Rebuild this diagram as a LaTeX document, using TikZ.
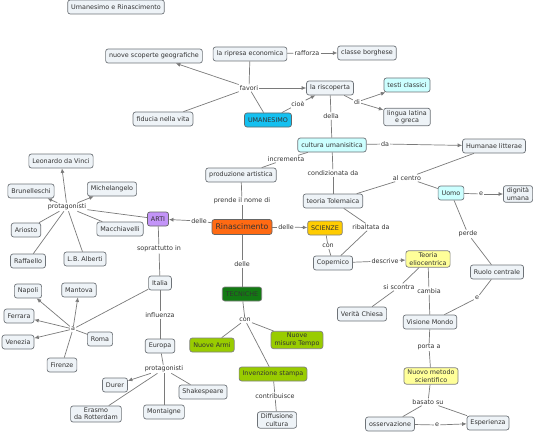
\documentclass[tikz,border=0pt]{standalone}
\usepackage{fontspec}
\setmainfont{DejaVu Sans}
\usetikzlibrary{positioning,shapes,arrows,arrows.meta}
\definecolor{cborder}{HTML}{6E7378}
\definecolor{cfill}{HTML}{EEF3F7}
\definecolor{lgray}{HTML}{7A7A7A}
\definecolor{tgray}{HTML}{333333}
\definecolor{cyanlight}{HTML}{CCFFFF}
\definecolor{cyandark}{HTML}{14C0F0}
\definecolor{orangec}{HTML}{FF6A13}
\definecolor{goldc}{HTML}{FFCC00}
\definecolor{greendark}{HTML}{137A13}
\definecolor{greenlight}{HTML}{99CC00}
\definecolor{purplec}{HTML}{C394F8}
\definecolor{yellowlight}{HTML}{FFFF99}
\begin{document}
\begin{tikzpicture}[
  x=1pt,y=-1pt,
  concept/.style={draw=cborder,fill=cfill,rounded corners=2.5pt,line width=0.7pt,
    inner xsep=3.5pt,inner ysep=2pt,minimum height=14pt,align=center,
    text=tgray,font=\fontsize{6.4}{7.4}\selectfont},
  linkword/.style={inner sep=1pt,text=tgray,font=\fontsize{6.4}{7.4}\selectfont},
  link/.style={draw=lgray,line width=0.7pt},
  arr/.style={link,-{Latex[length=4.5pt,width=4pt]}}
]
\useasboundingbox (0,0) rectangle (540,433);
% titolo
\node[concept] (title) at (116,7) {Umanesimo e Rinascimento};
% umanesimo
\node[concept] (scoperte) at (154,56) {nuove scoperte geografiche};
\node[concept] (fiducia) at (163,119) {fiducia nella vita};
\node[concept] (ripresa) at (250,54) {la ripresa economica};
\node[concept] (borghese) at (367,53) {classe borghese};
\node[concept,fill=cyandark,draw=black!60] (umanesimo) at (268,120) {UMANESIMO};
\node[concept] (riscoperta) at (330,88) {la riscoperta};
\node[concept,fill=cyanlight] (testi) at (407,85) {testi classici};
\node[concept] (lingua) at (407,117) {lingua latina\\e greca};
\node[concept,fill=cyanlight] (cultura) at (332,145) {cultura umanisitica};
\node[concept] (humanae) at (494,146) {Humanae litterae};
\node[concept] (produzione) at (241,175) {produzione artistica};
\node[concept] (tolemaica) at (333,201) {teoria Tolemaica};
\node[concept,fill=cyanlight] (uomo) at (451,193) {Uomo};
\node[concept] (dignita) at (518,194) {dignità\\umana};
\node[concept] (ruolo) at (497,272) {Ruolo centrale};
% rinascimento
\node[concept,fill=orangec,draw=black!60,font=\fontsize{7.8}{9}\selectfont,minimum height=15pt] (rinascimento) at (242,227) {Rinascimento};
\node[concept,fill=goldc,draw=black!50] (scienze) at (325,228) {SCIENZE};
\node[concept] (copernico) at (333,263) {Copernico};
\node[concept,fill=yellowlight,draw=black!50] (elio) at (428,259) {Teoria\\eliocentrica};
\node[concept] (chiesa) at (362,314) {Verità Chiesa};
\node[concept] (visione) at (430,322) {Visione Mondo};
\node[concept,fill=yellowlight,draw=black!50] (metodo) at (431,376) {Nuovo metodo\\scientifico};
\node[concept] (osserv) at (390,424) {osservazione};
\node[concept] (esperienza) at (488,423) {Esperienza};
\node[concept,fill=greendark,draw=black!50] (tecniche) at (242,294) {TECNICHE};
\node[concept,fill=greenlight,draw=black!50] (armi) at (212,345) {Nuove Armi};
\node[concept,fill=greenlight,draw=black!50] (tempo) at (297,340) {Nuove\\misure Tempo};
\node[concept,fill=greenlight,draw=black!50] (stampa) at (273,374) {Invenzione stampa};
\node[concept] (diffusione) at (277,420) {Diffusione\\cultura};
% arti
\node[concept,fill=purplec,draw=black!60] (arti) at (158,219) {ARTI};
\node[concept] (leonardo) at (61,161) {Leonardo da Vinci};
\node[concept] (brunelleschi) at (31,191) {Brunelleschi};
\node[concept] (michelangelo) at (112,189) {Michelangelo};
\node[concept] (ariosto) at (26,230) {Ariosto};
\node[concept] (macchiavelli) at (120,229) {Macchiavelli};
\node[concept] (raffaello) at (28,261) {Raffaello};
\node[concept] (alberti) at (85,259) {L.B. Alberti};
\node[concept] (italia) at (160,283) {Italia};
\node[concept] (napoli) at (28,291) {Napoli};
\node[concept] (mantova) at (79,290) {Mantova};
\node[concept] (ferrara) at (19,316) {Ferrara};
\node[concept] (roma) at (100,339) {Roma};
\node[concept] (venezia) at (18,342) {Venezia};
\node[concept] (firenze) at (62,365) {Firenze};
\node[concept] (europa) at (160,346) {Europa};
\node[concept] (durer) at (115,385) {Durer};
\node[concept] (shakespeare) at (203,392) {Shakespeare};
\node[concept] (erasmo) at (96,414) {Erasmo\\da Rotterdam};
\node[concept] (montaigne) at (164,412) {Montaigne};
% parole legame
\node[linkword] (favori) at (249,88) {favori};
\node[linkword] (rafforza) at (307,53) {rafforza};
\node[linkword] (cioe) at (298,104) {cioè};
\node[linkword] (di) at (357,102) {di};
\node[linkword] (della) at (331,116) {della};
\node[linkword] (da) at (385,144) {da};
\node[linkword] (incrementa) at (286,159) {incrementa};
\node[linkword] (condiz) at (333,173) {condizionata da};
\node[linkword] (alcentro) at (407,178) {al centro};
\node[linkword] (e1) at (481,194) {e};
\node[linkword] (perde) at (468,234) {perde};
\node[linkword] (e2) at (477,298) {e};
\node[linkword] (prende) at (242,201) {prende il nome di};
\node[linkword] (delleA) at (199,221) {delle};
\node[linkword] (delleS) at (286,227) {delle};
\node[linkword] (delleT) at (242,264) {delle};
\node[linkword] (ribaltata) at (371,227) {ribaltata da};
\node[linkword] (conS) at (328,246) {con};
\node[linkword] (descrive) at (385,261) {descrive};
\node[linkword] (scontra) at (399,287) {si scontra};
\node[linkword] (cambia) at (429,291) {cambia};
\node[linkword] (porta) at (429,347) {porta a};
\node[linkword] (basato) at (428,402) {basato su};
\node[linkword] (e3) at (437,425) {e};
\node[linkword] (conT) at (245,320) {con};
\node[linkword] (contrib) at (275,396) {contribuisce};
\node[linkword] (protA) at (67,207) {protagonisti};
\node[linkword] (sopr) at (159,249) {soprattutto in};
\node[linkword] (a) at (73,329) {a};
\node[linkword] (influenza) at (160,315) {influenza};
\node[linkword] (protE) at (164,369) {protagonisti};
% collegamenti
\path (ripresa) edge[link] (favori);
\path (umanesimo) edge[link] (favori);
\path (fiducia) edge[link] (favori);
\path (favori) edge[arr] (scoperte);
\path (favori) edge[arr] (riscoperta);
\path (ripresa) edge[link] (rafforza);
\path (rafforza) edge[arr] (borghese);
\path (umanesimo) edge[link] (cioe);
\path (cioe) edge[arr] (riscoperta);
\path (riscoperta) edge[link] (di);
\path (di) edge[arr] (testi);
\path (di) edge[arr] (lingua);
\path (riscoperta) edge[link] (della);
\path (della) edge[link] (cultura);
\path (cultura) edge[link] (da);
\path (da) edge[arr] (humanae);
\path (cultura) edge[link] (incrementa);
\path (incrementa) edge[link] (produzione);
\path (cultura) edge[link] (condiz);
\path (condiz) edge[link] (tolemaica);
\path (humanae) edge[link] (alcentro);
\path (alcentro) edge[link] (tolemaica);
\path (alcentro) edge[link] (uomo);
\path (uomo) edge[link] (e1);
\path (e1) edge[arr] (dignita);
\path (uomo) edge[link] (perde);
\path (perde) edge[link] (ruolo);
\path (ruolo) edge[link] (e2);
\path (e2) edge[link] (visione);
\path (produzione) edge[link] (prende);
\path (prende) edge[link] (rinascimento);
\path (rinascimento) edge[link] (delleA);
\path (delleA) edge[arr] (arti);
\path (rinascimento) edge[link] (delleS);
\path (delleS) edge[arr] (scienze);
\path (rinascimento) edge[link] (delleT);
\path (delleT) edge[link] (tecniche);
\path (tolemaica) edge[link] (ribaltata);
\path (ribaltata) edge[link] (copernico);
\path (scienze) edge[link] (conS);
\path (conS) edge[link] (copernico);
\path (copernico) edge[link] (descrive);
\path (descrive) edge[arr] (elio);
\path (elio) edge[link] (scontra);
\path (scontra) edge[link] (chiesa);
\path (elio) edge[link] (cambia);
\path (cambia) edge[link] (visione);
\path (visione) edge[link] (porta);
\path (porta) edge[link] (metodo);
\path (metodo) edge[link] (basato);
\path (basato) edge[link] (osserv);
\path (basato) edge[link] (esperienza);
\path (osserv) edge[link] (e3);
\path (e3) edge[arr] (esperienza);
\path (tecniche) edge[link] (conT);
\path (conT) edge[link] (armi);
\path (conT) edge[link] (tempo);
\path (conT) edge[link] (stampa);
\path (stampa) edge[link] (contrib);
\path (contrib) edge[link] (diffusione);
\path (arti) edge[link] (protA);
\path (protA) edge[arr] (leonardo);
\path (protA) edge[arr] (brunelleschi);
\path (protA) edge[arr] (michelangelo);
\path (protA) edge[link] (ariosto);
\path (protA) edge[link] (macchiavelli);
\path (protA) edge[link] (raffaello);
\path (protA) edge[link] (alberti);
\path (arti) edge[link] (sopr);
\path (sopr) edge[link] (italia);
\path (italia) edge[link] (a);
\path (a) edge[arr] (napoli);
\path (a) edge[arr] (mantova);
\path (a) edge[arr] (ferrara);
\path (a) edge[arr] (venezia);
\path (a) edge[link] (roma);
\path (a) edge[link] (firenze);
\path (italia) edge[link] (influenza);
\path (influenza) edge[link] (europa);
\path (europa) edge[link] (protE);
\path (protE) edge[arr] (durer);
\path (protE) edge[link] (shakespeare);
\path (protE) edge[link] (erasmo);
\path (protE) edge[link] (montaigne);
\end{tikzpicture}
\end{document}
